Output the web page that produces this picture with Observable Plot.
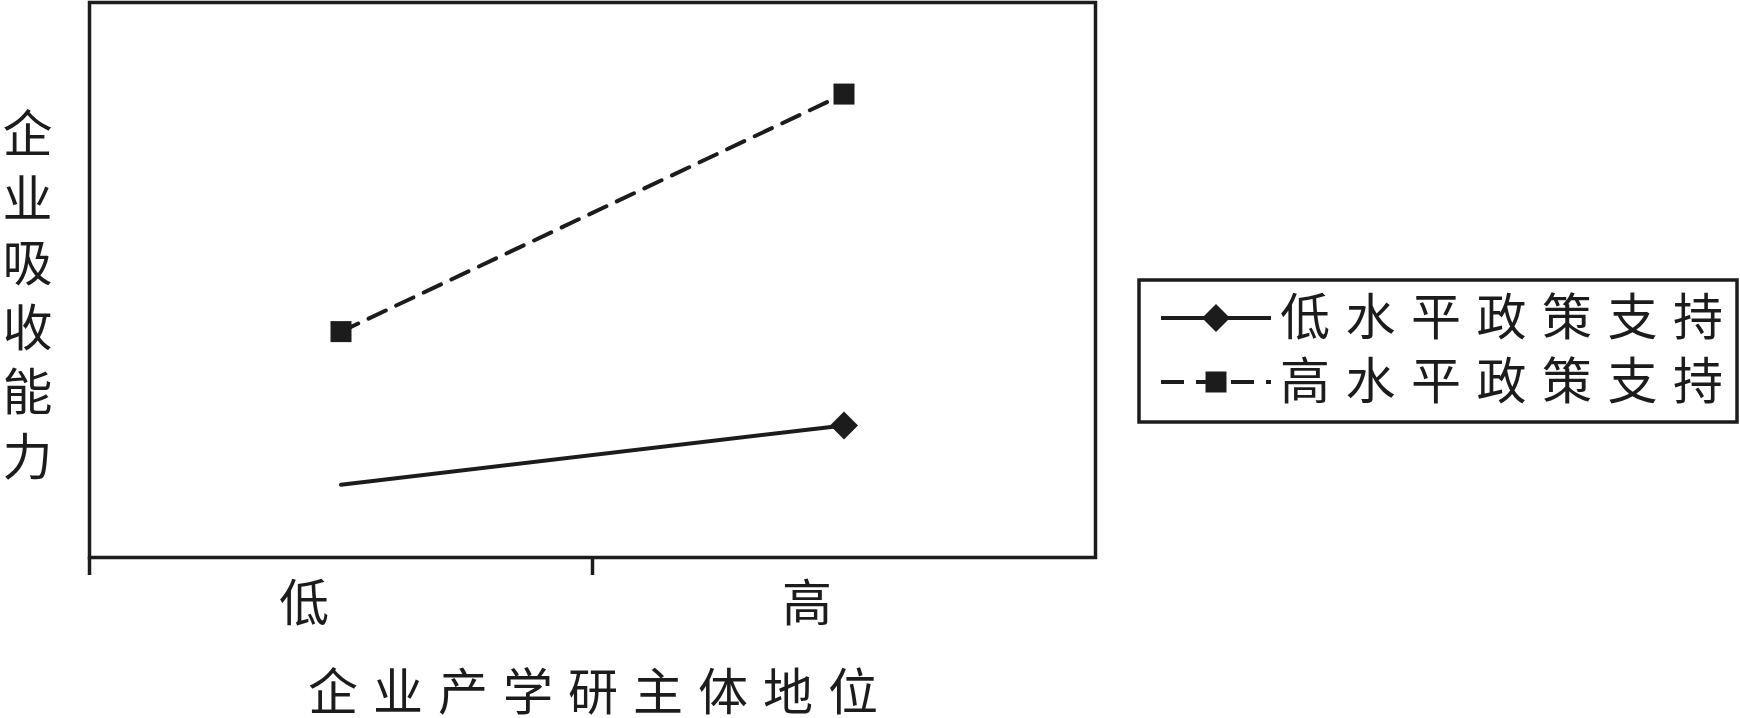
<!DOCTYPE html>
<html>
<head>
<meta charset="utf-8">
<script src="https://cdn.jsdelivr.net/npm/d3@7"></script>
<script src="https://cdn.jsdelivr.net/npm/@observablehq/plot@0.6"></script>
<style>
  html, body { margin: 0; padding: 0; background: #fff; }
  #chart { width: 1740px; height: 718px; }
</style>
</head>
<body>
<div id="chart"></div>
<script>
// ---- data ----
const categories = ["低", "高"];               // 企业产学研主体地位
const categoryPos = [0.5, 1.5];
const seriesNames = ["低水平政策支持", "高水平政策支持"];
const lowPolicy = [1.31, 2.38];                // 企业吸收能力 (arbitrary units)
const highPolicy = [4.07, 8.35];
const xTitle = "企业产学研主体地位";
const yTitle = "企业吸收能力";

const ink = "#1c1c1c";
const font = "'Noto Sans CJK SC', sans-serif";
const weight = 400;

const lowRows = categories.map((c, i) => ({cat: c, x: categoryPos[i], y: lowPolicy[i]}));
const highRows = categories.map((c, i) => ({cat: c, x: categoryPos[i], y: highPolicy[i]}));
const catRows = categories.map((c, i) => ({cat: c, x: categoryPos[i]}));

const chart = Plot.plot({
  width: 1740,
  height: 718,
  marginLeft: 89,
  marginRight: 645,
  marginTop: 2,
  marginBottom: 161,
  style: {fontFamily: font, background: "#fff", color: ink},
  x: {domain: [0, 2], axis: null},
  y: {domain: [0, 10], axis: null},
  marks: [
    Plot.frame({stroke: ink, strokeWidth: 3.5}),
    Plot.axisX({ticks: [0, 1], tickSize: 18, tickFormat: () => "", label: null, stroke: ink, strokeWidth: 3.5}),
    Plot.text(catRows, {x: "x", text: "cat", frameAnchor: "bottom", lineAnchor: "middle", textAnchor: "middle", dy: 47, dx: -37, fontSize: 50, fill: ink, fontWeight: weight}),
    Plot.text([xTitle], {frameAnchor: "bottom", lineAnchor: "middle", textAnchor: "middle", dy: 136, dx: 8, fontSize: 50, fill: ink, fontWeight: weight}),
    Plot.text([yTitle.split("").join("\n")], {frameAnchor: "left", textAnchor: "middle", lineAnchor: "middle", dx: -62, dy: 13, fontSize: 50, lineHeight: 1.29, fill: ink, fontWeight: weight}),
    Plot.line(lowRows, {x: "x", y: "y", stroke: ink, strokeWidth: 4}),
    Plot.line(highRows, {x: "x", y: "y", stroke: ink, strokeWidth: 4, strokeDasharray: "19,11.5"}),
    Plot.dot(lowRows.slice(1), {x: "x", y: "y", symbol: "diamond2", r: 12.6, fill: ink, stroke: "none"}),
    Plot.dot(highRows, {x: "x", y: "y", symbol: "square", r: 11.85, fill: ink, stroke: "none"})
  ]
});

const svg = d3.select(chart);
svg.selectAll("text").filter(function() { return this.textContent === xTitle; })
  .style("letter-spacing", "15px");

// ---- legend ----
const lg = svg.append("g").attr("class", "legend");
lg.append("rect").attr("x", 1139).attr("y", 280).attr("width", 598).attr("height", 142)
  .attr("fill", "#fff").attr("stroke", ink).attr("stroke-width", 3.5);
const rowsY = [318, 382];
// row 1: solid + diamond
lg.append("line").attr("x1", 1161).attr("x2", 1271).attr("y1", rowsY[0]).attr("y2", rowsY[0])
  .attr("stroke", ink).attr("stroke-width", 4);
lg.append("path").attr("d", d3.symbol(d3.symbolDiamond2, 499.6)()).attr("transform", `translate(1216,${rowsY[0]})`).attr("fill", ink);
// row 2: dashed + square
lg.append("line").attr("x1", 1161).attr("x2", 1271).attr("y1", rowsY[1]).attr("y2", rowsY[1])
  .attr("stroke", ink).attr("stroke-width", 4).attr("stroke-dasharray", "23,12");
lg.append("path").attr("d", d3.symbol(d3.symbolSquare, 441)()).attr("transform", `translate(1216,${rowsY[1]})`).attr("fill", ink);
seriesNames.forEach((name, i) => {
  lg.append("text").attr("x", 1280).attr("y", rowsY[i]).attr("dy", "0.34em")
    .attr("text-anchor", "start")
    .attr("font-size", 50).attr("font-weight", weight).attr("fill", ink)
    .style("letter-spacing", "15.5px").attr("font-family", font).text(name);
});

document.getElementById("chart").appendChild(chart);
</script>
</body>
</html>
